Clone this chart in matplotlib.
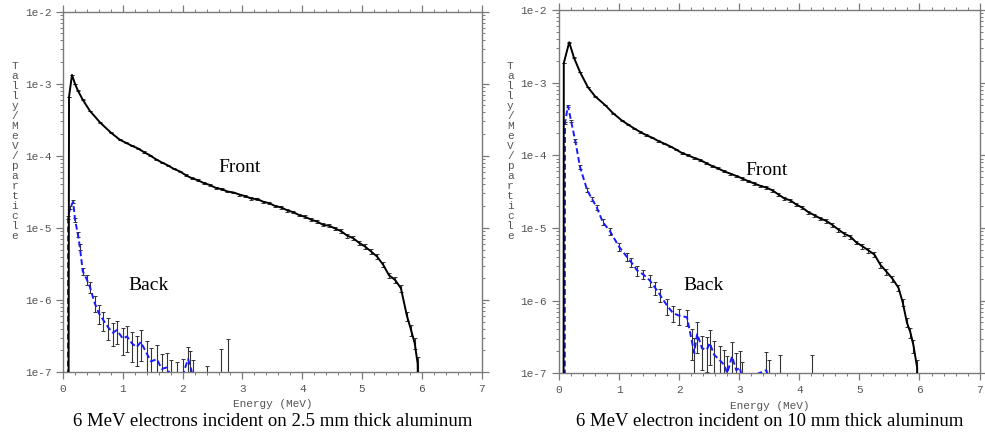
import numpy as np
import matplotlib.pyplot as plt
from matplotlib.ticker import MultipleLocator, LogLocator

# ---- data (energy in MeV, tally per MeV per particle) ----

# 2.5 mm aluminum, front
front1_e = [0.09, 0.10, 0.15, 0.20, 0.25, 0.33, 0.45, 0.62, 0.80, 0.95,
            1.05, 1.15, 1.25, 1.35, 1.45, 1.55, 1.65, 1.75, 1.85, 1.95,
            2.05, 2.15, 2.25, 2.35, 2.45, 2.55, 2.65, 2.75, 2.85, 2.95,
            3.05, 3.15, 3.25, 3.35, 3.45, 3.55, 3.65, 3.75, 3.85, 3.95,
            4.05, 4.15, 4.25, 4.35, 4.45, 4.55, 4.65, 4.75, 4.85, 4.95,
            5.05, 5.15, 5.25, 5.35, 5.45, 5.55, 5.65, 5.75, 5.82, 5.88, 5.93, 5.95]
front1_v = [1e-9, 6.6e-4, 1.33e-3, 1.0e-3, 8.0e-4, 6.0e-4, 4.2e-4, 2.9e-4, 2.1e-4, 1.67e-4,
            1.52e-4, 1.38e-4, 1.27e-4, 1.13e-4, 1.02e-4, 9.0e-5, 8.1e-5, 7.4e-5, 6.6e-5, 6.1e-5,
            5.4e-5, 4.9e-5, 4.6e-5, 4.2e-5, 3.95e-5, 3.6e-5, 3.45e-5, 3.2e-5, 3.1e-5, 2.9e-5,
            2.75e-5, 2.55e-5, 2.5e-5, 2.3e-5, 2.2e-5, 2.0e-5, 1.92e-5, 1.75e-5, 1.65e-5, 1.5e-5,
            1.42e-5, 1.3e-5, 1.22e-5, 1.1e-5, 1.07e-5, 9.8e-6, 9.0e-6, 7.8e-6, 7.2e-6, 6.2e-6,
            5.5e-6, 4.7e-6, 4.0e-6, 3.1e-6, 2.2e-6, 1.9e-6, 1.45e-6, 6.0e-7, 3.8e-7, 2.5e-7, 1.3e-7, 1e-9]
front1_err = [0, 0.01, 0.01, 0.01, 0.01, 0.01, 0.01, 0.01, 0.01, 0.01,
              0.02, 0.02, 0.02, 0.02, 0.02, 0.02, 0.02, 0.02, 0.02, 0.02,
              0.03, 0.03, 0.03, 0.03, 0.03, 0.03, 0.03, 0.03, 0.03, 0.03,
              0.04, 0.04, 0.04, 0.04, 0.04, 0.04, 0.04, 0.04, 0.04, 0.04,
              0.05, 0.05, 0.05, 0.05, 0.05, 0.05, 0.06, 0.06, 0.06, 0.06,
              0.07, 0.07, 0.08, 0.08, 0.09, 0.10, 0.10, 0.14, 0.16, 0.18, 0.25, 0]

# 2.5 mm aluminum, back
back1_e = [0.08, 0.085, 0.12, 0.17, 0.20, 0.25, 0.28, 0.33, 0.40, 0.45,
           0.53, 0.60, 0.67, 0.75, 0.83, 0.90, 1.00, 1.07, 1.15, 1.23,
           1.30, 1.40, 1.47, 1.57, 1.65, 1.73, 1.80, 1.90, 2.00, 2.09,
           2.13, 2.18, 2.40, 2.64, 2.76, 2.80]
back1_v = [1e-9, 1.4e-5, 1.9e-5, 2.3e-5, 1.3e-5, 8.0e-6, 5.5e-6, 2.5e-6, 1.9e-6, 1.5e-6,
           9.0e-7, 6.5e-7, 5.3e-7, 4.2e-7, 3.5e-7, 3.8e-7, 2.9e-7, 3.1e-7, 2.5e-7, 2.2e-7,
           2.6e-7, 1.8e-7, 1.4e-7, 1.5e-7, 1.1e-7, 1.15e-7, 9e-8, 8e-8, 9e-8, 1.5e-7,
           1.2e-7, 8e-8, 6e-8, 6e-8, 9e-8, 1e-9]
back1_err = [0, 0.05, 0.05, 0.05, 0.06, 0.08, 0.10, 0.12, 0.15, 0.18,
             0.25, 0.30, 0.30, 0.35, 0.35, 0.35, 0.40, 0.40, 0.45, 0.45,
             0.45, 0.50, 0.55, 0.55, 0.60, 0.60, 0.65, 0.70, 0.70, 0.50,
             0.60, 0.80, 1.0, 2.5, 2.2, 0]

# 10 mm aluminum, front
front2_e = [0.075, 0.08, 0.17, 0.25, 0.35, 0.48, 0.60, 0.77, 0.90,
            1.05, 1.15, 1.25, 1.35, 1.45, 1.55, 1.65, 1.75, 1.85, 1.95,
            2.05, 2.15, 2.25, 2.35, 2.45, 2.55, 2.65, 2.75, 2.85, 2.95,
            3.05, 3.15, 3.25, 3.35, 3.45, 3.55, 3.65, 3.75, 3.85, 3.95,
            4.05, 4.15, 4.25, 4.35, 4.45, 4.55, 4.65, 4.75, 4.85, 4.95,
            5.05, 5.15, 5.25, 5.35, 5.45, 5.55, 5.65, 5.72, 5.79, 5.85, 5.90, 5.96, 5.98]
front2_v = [1e-9, 1.86e-3, 3.6e-3, 2.2e-3, 1.4e-3, 8.7e-4, 6.5e-4, 4.9e-4, 3.8e-4,
            3.0e-4, 2.65e-4, 2.35e-4, 2.1e-4, 1.9e-4, 1.75e-4, 1.58e-4, 1.45e-4, 1.33e-4, 1.2e-4,
            1.07e-4, 1.0e-4, 9.2e-5, 8.6e-5, 7.8e-5, 7.1e-5, 6.6e-5, 6.0e-5, 5.6e-5, 5.2e-5,
            4.8e-5, 4.4e-5, 4.1e-5, 3.8e-5, 3.6e-5, 3.3e-5, 2.9e-5, 2.55e-5, 2.4e-5, 2.1e-5,
            1.9e-5, 1.65e-5, 1.5e-5, 1.35e-5, 1.25e-5, 1.1e-5, 9.5e-6, 8.3e-6, 7.6e-6, 6.3e-6,
            5.6e-6, 4.9e-6, 4.3e-6, 3.1e-6, 2.5e-6, 2.0e-6, 1.5e-6, 9.5e-7, 5.0e-7, 3.6e-7, 2.4e-7, 1.2e-7, 1e-9]
front2_err = [0, 0.01, 0.01, 0.01, 0.01, 0.01, 0.01, 0.01, 0.01,
              0.02, 0.02, 0.02, 0.02, 0.02, 0.02, 0.02, 0.02, 0.02, 0.02,
              0.03, 0.03, 0.03, 0.03, 0.03, 0.03, 0.03, 0.03, 0.03, 0.03,
              0.04, 0.04, 0.04, 0.04, 0.04, 0.04, 0.04, 0.04, 0.04, 0.04,
              0.05, 0.05, 0.05, 0.05, 0.05, 0.05, 0.06, 0.06, 0.06, 0.06,
              0.07, 0.07, 0.08, 0.08, 0.09, 0.10, 0.10, 0.12, 0.14, 0.16, 0.20, 0.25, 0]

# 10 mm aluminum, back
back2_e = [0.095, 0.10, 0.15, 0.20, 0.27, 0.35, 0.47, 0.55, 0.63, 0.73,
           0.85, 1.00, 1.13, 1.20, 1.30, 1.40, 1.51, 1.60, 1.68, 1.80,
           1.90, 2.00, 2.13, 2.21, 2.25, 2.30, 2.38, 2.46, 2.51, 2.58,
           2.68, 2.75, 2.80, 2.88, 2.95, 3.01, 3.05, 3.45, 3.50, 3.68, 4.21]
back2_v = [1e-9, 2.8e-4, 4.8e-4, 3.0e-4, 1.6e-4, 6.9e-5, 3.3e-5, 2.5e-5, 1.9e-5, 1.2e-5,
           9.0e-6, 5.5e-6, 4.0e-6, 3.4e-6, 2.6e-6, 2.3e-6, 1.9e-6, 1.5e-6, 1.2e-6, 8.5e-7,
           6.7e-7, 6.2e-7, 5.9e-7, 2.8e-7, 1.9e-7, 3.5e-7, 2.2e-7, 2.1e-7, 2.6e-7, 1.8e-7,
           1.5e-7, 1.3e-7, 1.0e-7, 1.7e-7, 1.1e-7, 1.2e-7, 8e-8, 1.1e-7, 8e-8, 6e-8, 6e-8]
back2_err = [0, 0.03, 0.03, 0.03, 0.04, 0.05, 0.06, 0.07, 0.08, 0.09,
             0.10, 0.12, 0.12, 0.14, 0.15, 0.15, 0.18, 0.20, 0.20, 0.25,
             0.25, 0.25, 0.25, 0.45, 0.60, 0.45, 0.50, 0.50, 0.50, 0.55,
             0.60, 0.60, 0.70, 0.60, 0.70, 0.70, 0.80, 0.80, 0.90, 2.0, 2.0]

captions = ['6 MeV electrons incident on 2.5 mm thick aluminum',
            '6 MeV electron incident on 10 mm thick aluminum']
ylabel = 'Tally/MeV/particle'
xlabel = 'Energy (MeV)'

mono = ['Liberation Mono', 'DejaVu Sans Mono']
serif = ['Liberation Serif', 'DejaVu Serif']
spine_col = '#7a7a7a'
text_col = '#555555'


def draw_series(ax, e, v, err, color, ls):
    e = np.array(e)
    v = np.array(v)
    rel = np.array(err)
    lo = np.minimum(v * rel, v * 0.95)
    hi = v * rel
    ax.plot(e, v, color=color, ls=ls, lw=1.4, zorder=3)
    m = rel > 0
    ax.errorbar(e[m], v[m], yerr=[lo[m], hi[m]], fmt='none', ecolor='#333333',
                elinewidth=0.8, capsize=1.6, capthick=0.7, zorder=2)


fig = plt.figure(figsize=(9.85, 4.37), dpi=100)
ax1 = fig.add_axes([0.064, 0.149, 0.425, 0.824])
ax2 = fig.add_axes([0.5675, 0.146, 0.427, 0.831])

panels = [
    (ax1, front1_e, front1_v, front1_err, back1_e, back1_v, back1_err,
     (218, 168), (128, 285), 0.015, captions[0]),
    (ax2, front2_e, front2_v, front2_err, back2_e, back2_v, back2_err,
     (745, 170), (683, 285), 0.518, captions[1]),
]

for (ax, fe, fv, ferr, be, bv, berr, fpos, bpos, ylab_x, cap) in panels:
    draw_series(ax, be, bv, berr, '#1a1aff', (0, (3, 1.6)))
    draw_series(ax, fe, fv, ferr, 'black', '-')
    ax.set_yscale('log')
    ax.set_xlim(0, 7)
    ax.set_ylim(1e-7, 1e-2)

    ax.xaxis.set_major_locator(MultipleLocator(1))
    ax.xaxis.set_minor_locator(MultipleLocator(0.2))
    ax.yaxis.set_minor_locator(LogLocator(base=10, subs=np.arange(2, 10), numticks=20))
    ax.set_yticks([1e-7, 1e-6, 1e-5, 1e-4, 1e-3, 1e-2])
    ax.set_yticklabels(['1e-7', '1e-6', '1e-5', '1e-4', '1e-3', '1e-2'])
    ax.tick_params(which='both', direction='out', color=spine_col, top=True, right=True,
                   labelcolor=text_col, labelsize=8)
    ax.tick_params(which='major', length=5, width=0.9)
    ax.tick_params(which='minor', length=2.5, width=0.7)
    for lab in ax.get_xticklabels() + ax.get_yticklabels():
        lab.set_family(mono)
    for s in ax.spines.values():
        s.set_color(spine_col)
        s.set_linewidth(1.0)

    ax.set_xlabel(xlabel, family=mono, fontsize=8, color=text_col, labelpad=4)
    fig.text(ylab_x, 0.655, '\n'.join(ylabel), family=mono, fontsize=8, color=text_col,
             ha='center', va='center', linespacing=1.0)

    fig.text(fpos[0] / 985, 1 - fpos[1] / 437, 'Front', family=serif, fontsize=14,
             ha='left', va='center')
    fig.text(bpos[0] / 985, 1 - bpos[1] / 437, 'Back', family=serif, fontsize=14,
             ha='left', va='center')

    bb = ax.get_position()
    fig.text(bb.x0 + bb.width / 2, 1 - 422 / 437, cap, family=serif, fontsize=13.5,
             ha='center', va='center')

fig.savefig('out.png', dpi=100)
